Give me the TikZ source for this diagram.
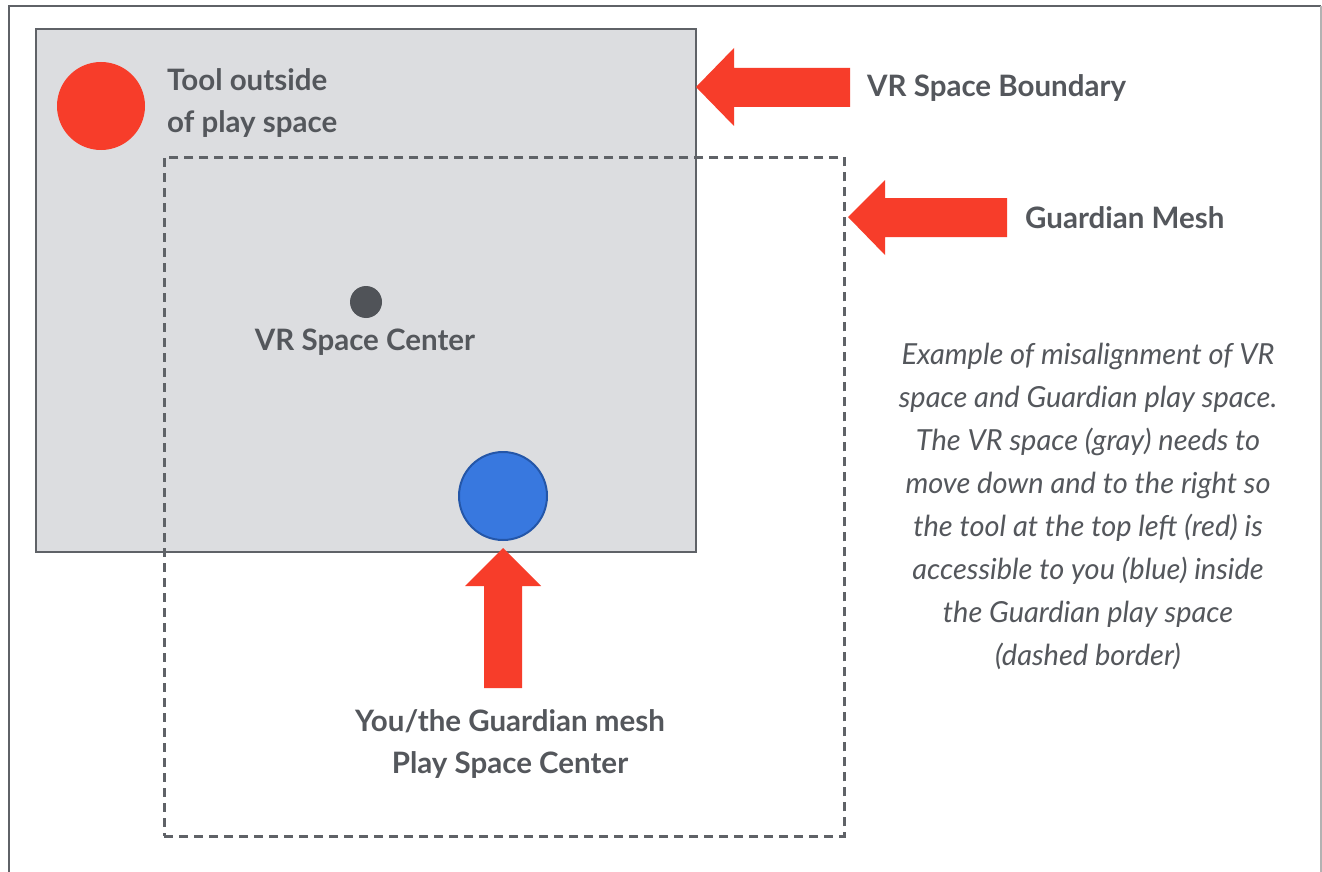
\documentclass[tikz,border=0pt]{standalone}
\usepackage{fontspec}
\setmainfont{Lato}
\definecolor{txtgray}{HTML}{54575C}
\definecolor{bordgray}{HTML}{5F6267}
\definecolor{fillgray}{HTML}{DCDDE0}
\definecolor{tred}{HTML}{F73D2A}
\definecolor{tblue}{HTML}{3878DF}
\definecolor{tblueb}{HTML}{2456A8}
\definecolor{dotgray}{HTML}{505358}
\tikzset{
  lbl/.style={text=txtgray,font=\fontsize{29.5}{42}\selectfont\bfseries,inner sep=0pt},
  desc/.style={text=txtgray,font=\fontsize{29}{43}\selectfont\itshape,align=center,inner sep=0pt},
  redarrow/.style={fill=tred,draw=none},
}
\begin{document}
\begin{tikzpicture}[x=1pt,y=-1pt]
\useasboundingbox (0,0) rectangle (1322,872);
\fill[white] (0,0) rectangle (1322,872);
% outer frame
\draw[bordgray,line width=2.5pt] (9,880) -- (9,6) -- (1321,6);
\draw[gray!60,line width=1.5pt] (1321,6) -- (1321,880);
% VR space
\node[draw=bordgray,fill=fillgray,line width=2pt,minimum width=660pt,minimum height=523pt,inner sep=0pt,anchor=north west] (vr) at (35,28) {};
% guardian mesh dashed
\node[draw=bordgray,line width=2.5pt,dash pattern=on 9pt off 6pt,minimum width=680pt,minimum height=679pt,inner sep=0pt,anchor=north west] (gm) at (163,156) {};
% tool
\node[circle,fill=tred,minimum size=88pt,inner sep=0pt] (tool) at (101,106) {};
\node[lbl,align=left,anchor=west] (toollbl) at (167,103) {Tool outside\\of play space};
% center dot
\node[circle,fill=dotgray,minimum size=32pt,inner sep=0pt] (vrc) at (366,302) {};
\node[lbl] (vrclbl) at (365,342) {VR Space Center};
% you
\node[circle,fill=tblue,draw=tblueb,line width=2pt,minimum size=88pt,inner sep=0pt] (you) at (503,496) {};
% arrows
\coordinate (a1) at (696,87);
\fill[redarrow] (a1) -- (734,48) -- (734,68) -- (850,68) -- (850,107) -- (734,107) -- (734,126) -- cycle;
\node[lbl,anchor=west] (vrb) at (867,88) {VR Space Boundary};
\coordinate (a2) at (848,217);
\fill[redarrow] (a2) -- (885,180) -- (885,198) -- (1007,198) -- (1007,237) -- (885,237) -- (885,255) -- cycle;
\node[lbl,anchor=west] (gml) at (1025,218) {Guardian Mesh};
\coordinate (a3) at (503,548);
\fill[redarrow] (a3) -- (541,586) -- (522,586) -- (522,688) -- (484,688) -- (484,586) -- (465,586) -- cycle;
\node[lbl,align=center] (youlbl) at (510,744) {You/the Guardian mesh\\Play Space Center};
% description
\node[desc] (d) at (1088,506) {Example of misalignment of VR\\space and Guardian play space.\\The VR space (gray) needs to\\move down and to the right so\\the tool at the top left (red) is\\accessible to you (blue) inside\\the Guardian play space\\(dashed border)};
\end{tikzpicture}
\end{document}
